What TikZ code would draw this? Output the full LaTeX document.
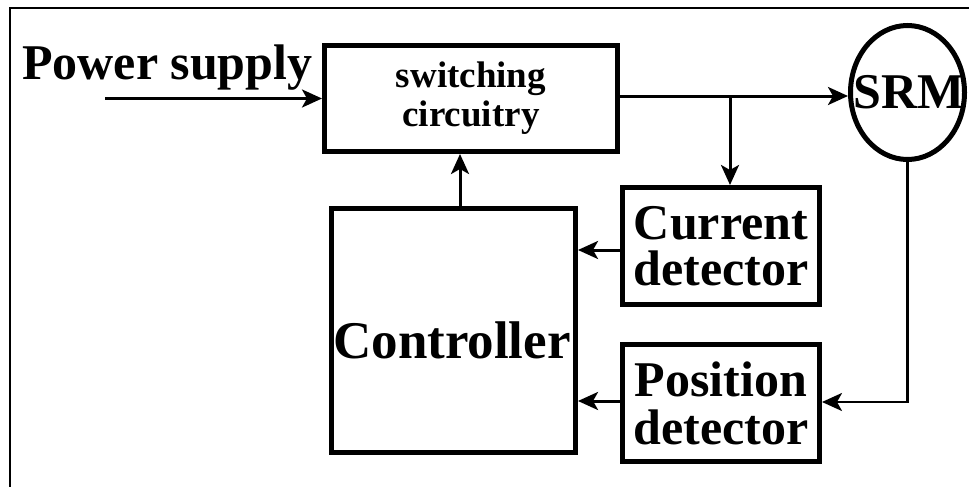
\documentclass[tikz,border=0pt]{standalone}
\usepackage{fontspec}
\setmainfont{Liberation Serif}
\usetikzlibrary{arrows.meta,calc,shapes.geometric}
\begin{document}
\begin{tikzpicture}[x=1pt,y=-1pt,
  blockbox/.style={draw,line width=5pt,rectangle,inner sep=0pt,align=center,
    font=\fontsize{50}{46}\selectfont\bfseries},
  bigtext/.style={font=\fontsize{50}{46}\selectfont\bfseries,inner sep=0pt},
  wire/.style={line width=3pt,-{Stealth[length=20pt,width=18pt,inset=5pt]}},
]
\useasboundingbox (0,0) rectangle (969,487);
% frame
\draw[line width=2pt] (10,487) -- (10,8) -- (969,8);

% blocks
\node[blockbox,minimum width=293pt,minimum height=106pt,
      font=\fontsize{37}{39}\selectfont\bfseries] (sw) at (471,98.5) {switching\\circuitry};
\node[blockbox,minimum width=244pt,minimum height=244pt] (ctrl) at (453.5,330.5) {};
\node[bigtext,font=\fontsize{53}{46}\selectfont\bfseries] (ctrllabel) at (452,340) {Controller};
\node[blockbox,minimum width=197pt,minimum height=117pt] (cur) at (721,246) {Current\\detector};
\node[blockbox,minimum width=197pt,minimum height=117pt,
      font=\fontsize{50}{48}\selectfont\bfseries] (pos) at (721,403) {Position\\detector};
\node[draw,ellipse,line width=5pt,inner sep=0pt,minimum width=114pt,minimum height=134pt]
      (srm) at (907.5,92.5) {};
\node[bigtext] (srmlabel) at (909,92.5) {SRM};
\node[bigtext,anchor=base west] (ps) at (22,80) {Power supply};

% connectors
\coordinate (psin) at (105,98.5);
\draw[wire] (psin) -- (sw.west);
\coordinate (out) at ($(sw.east)+(0,-2.5)$);
\draw[wire] (out) -- (out -| srm.west);
\coordinate (tap) at (730,96);
\draw[wire] (tap) -- (tap |- cur.north);
\coordinate (cmd) at ($(ctrl.north)+(6.5,0)$);
\draw[wire] (cmd) -- (cmd |- sw.south);
\coordinate (ifb) at ($(cur.west)+(0,4)$);
\draw[wire] (ifb) -- (ifb -| ctrl.east);
\coordinate (pfb) at ($(pos.west)+(0,-2)$);
\draw[wire] (pfb) -- (pfb -| ctrl.east);
\draw[wire,line width=2.5pt] (srm.south) |- ($(pos.east)+(0,-1)$);
\end{tikzpicture}
\end{document}
